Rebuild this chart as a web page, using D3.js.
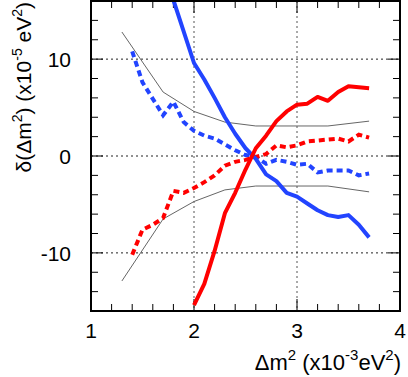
<!DOCTYPE html>
<html>
<head>
<meta charset="utf-8">
<script src="https://cdn.jsdelivr.net/npm/d3@7"></script>
<style>
  body { margin: 0; background: #fff; }
  svg { display: block; font-family: "Liberation Sans", Arial, sans-serif; }
</style>
</head>
<body>
<script>
// values
let blueSolid = [[1.8,16.1],[2.0,9.6],[2.1,7.9],[2.2,6.0],[2.3,4.0],[2.4,2.3],[2.5,0.8],[2.6,-0.3],[2.7,-1.9],[2.8,-2.6],[2.9,-3.8],[3.0,-4.2],[3.1,-4.9],[3.2,-5.6],[3.3,-6.1],[3.4,-6.3],[3.5,-6.1],[3.6,-7.1],[3.7,-8.4]];
let redSolid = [[2.0,-15.4],[2.1,-13.2],[2.2,-9.8],[2.3,-5.9],[2.4,-3.8],[2.5,-1.4],[2.6,0.8],[2.7,2.1],[2.8,3.6],[2.9,4.6],[3.0,5.3],[3.1,5.4],[3.2,6.1],[3.3,5.7],[3.4,6.6],[3.5,7.2],[3.6,7.1],[3.7,7.0]];
let blueDot = [[1.4,10.8],[1.5,7.6],[1.6,5.9],[1.7,4.2],[1.8,5.6],[1.9,3.5],[2.0,2.6],[2.1,2.1],[2.2,1.8],[2.3,1.2],[2.4,0.6],[2.5,0.1],[2.6,-0.1],[2.7,-0.8],[2.8,-0.4],[2.9,-0.6],[3.0,-0.9],[3.1,-0.8],[3.2,-1.7],[3.3,-1.5],[3.4,-1.5],[3.5,-1.5],[3.6,-2.0],[3.7,-1.8]];
let redDot = [[1.4,-10.2],[1.5,-7.6],[1.6,-7.1],[1.7,-6.4],[1.8,-3.6],[1.9,-3.8],[2.0,-3.3],[2.1,-2.7],[2.2,-2.0],[2.3,-1.0],[2.4,-0.6],[2.5,-0.4],[2.6,-0.1],[2.7,0.2],[2.8,1.1],[2.9,0.9],[3.0,1.1],[3.1,1.5],[3.2,1.6],[3.3,1.7],[3.4,1.8],[3.5,1.5],[3.6,2.2],[3.7,1.9]];
let grayUp = [[1.3,12.8],[1.7,6.6],[2.0,4.6],[2.3,3.5],[2.6,3.1],[3.3,3.1],[3.7,3.6]];
let grayDown = [[1.3,-12.9],[1.7,-6.5],[2.0,-4.7],[2.3,-3.5],[2.6,-3.1],[3.3,-3.1],[3.7,-3.7]];

let xTicks = [1, 2, 3, 4];
let yTicks = [-10, 0, 10];
let xGrid = [2, 3];

let W = 408, H = 377;
let L = 91, R = 400, T = 1, B = 311;

let svg = d3.select("body").append("svg")
    .attr("width", W)
    .attr("height", H);

let x = d3.scaleLinear().domain([1, 4]).range([L, R]);
let y = d3.scaleLinear().domain([-16, 16]).range([B, T]);

// dotted grid
svg.selectAll(".gx").data(xGrid).enter().append("line")
    .attr("x1", d => x(d)).attr("x2", d => x(d))
    .attr("y1", T).attr("y2", B)
    .attr("stroke", "#555").attr("stroke-width", 1)
    .attr("stroke-dasharray", "2,3");
svg.selectAll(".gy").data(yTicks).enter().append("line")
    .attr("x1", L).attr("x2", R)
    .attr("y1", d => y(d)).attr("y2", d => y(d))
    .attr("stroke", "#222").attr("stroke-width", 1)
    .attr("stroke-dasharray", "2,3");

// ticks, inside on all four sides
let xMinor = d3.range(1, 4.001, 0.2);
let yMinor = d3.range(-16, 16.001, 2);
let tk = svg.append("g").attr("stroke", "#000").attr("stroke-width", 1);
xMinor.forEach(v => {
    let len = Math.abs(v - Math.round(v)) < 1e-6 ? 12 : 7;
    tk.append("line").attr("x1", x(v)).attr("x2", x(v)).attr("y1", B).attr("y2", B - len);
    tk.append("line").attr("x1", x(v)).attr("x2", x(v)).attr("y1", T).attr("y2", T + len);
});
yMinor.forEach(v => {
    let len = v % 10 === 0 ? 12 : 7;
    tk.append("line").attr("y1", y(v)).attr("y2", y(v)).attr("x1", L).attr("x2", L + len);
    tk.append("line").attr("y1", y(v)).attr("y2", y(v)).attr("x1", R).attr("x2", R - len);
});

let line = d3.line().x(d => x(d[0])).y(d => y(d[1]));

let plot = svg.append("g");
plot.append("path").datum(grayUp).attr("d", line)
    .attr("fill", "none").attr("stroke", "#666").attr("stroke-width", 1);
plot.append("path").datum(grayDown).attr("d", line)
    .attr("fill", "none").attr("stroke", "#666").attr("stroke-width", 1);
plot.append("path").datum(blueDot).attr("d", line)
    .attr("fill", "none").attr("stroke", "#2244ff").attr("stroke-width", 4)
    .attr("stroke-dasharray", "6,4");
plot.append("path").datum(redDot).attr("d", line)
    .attr("fill", "none").attr("stroke", "#ff0000").attr("stroke-width", 4)
    .attr("stroke-dasharray", "6,4");
plot.append("path").datum(blueSolid).attr("d", line)
    .attr("fill", "none").attr("stroke", "#2244ff").attr("stroke-width", 4)
    .attr("stroke-linejoin", "round");
plot.append("path").datum(redSolid).attr("d", line)
    .attr("fill", "none").attr("stroke", "#ff0000").attr("stroke-width", 4)
    .attr("stroke-linejoin", "round");

// frame
svg.append("rect")
    .attr("x", L).attr("y", T)
    .attr("width", R - L).attr("height", B - T)
    .attr("fill", "none").attr("stroke", "#000").attr("stroke-width", 2);

// tick labels
svg.selectAll(".yl").data(yTicks).enter().append("text")
    .attr("x", 71).attr("y", d => y(d) + 8)
    .attr("text-anchor", "end")
    .attr("font-size", 21)
    .text(d => d);
svg.selectAll(".xl").data(xTicks).enter().append("text")
    .attr("x", d => x(d)).attr("y", 338)
    .attr("text-anchor", "middle")
    .attr("font-size", 21)
    .text(d => d);

// axis titles
let xt = svg.append("text")
    .attr("x", 401).attr("y", 370)
    .attr("text-anchor", "end")
    .attr("font-size", 22);
xt.append("tspan").text("\u0394m");
xt.append("tspan").attr("font-size", 15).attr("dy", -10).text("2");
xt.append("tspan").attr("dy", 10).text(" (x10");
xt.append("tspan").attr("font-size", 15).attr("dy", -10).text("-3");
xt.append("tspan").attr("dy", 10).text("eV");
xt.append("tspan").attr("font-size", 15).attr("dy", -10).text("2");
xt.append("tspan").attr("dy", 10).text(")");

let yt = svg.append("text")
    .attr("transform", "translate(31,2) rotate(-90)")
    .attr("text-anchor", "end")
    .attr("font-size", 21);
yt.append("tspan").text("\u03b4(\u0394m");
yt.append("tspan").attr("font-size", 14).attr("dy", -9).text("2");
yt.append("tspan").attr("dy", 9).text(") (x10");
yt.append("tspan").attr("font-size", 14).attr("dy", -9).text("-5");
yt.append("tspan").attr("dy", 9).text(" eV");
yt.append("tspan").attr("font-size", 14).attr("dy", -9).text("2");
yt.append("tspan").attr("dy", 9).text(")");
</script>
</body>
</html>
